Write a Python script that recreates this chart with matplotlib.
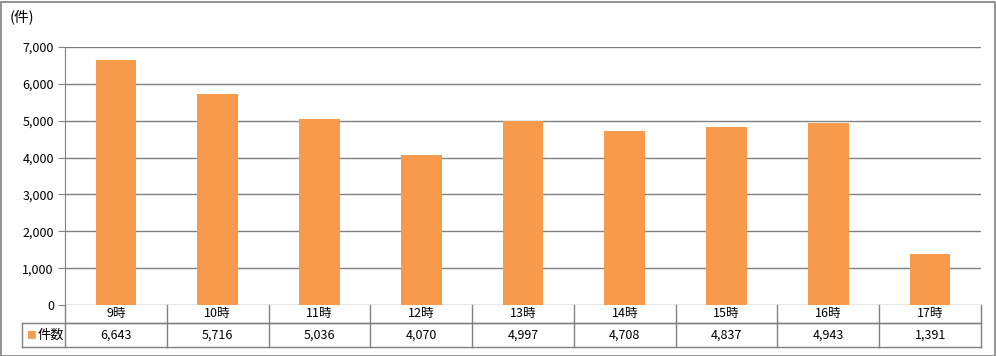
import matplotlib.pyplot as plt
from matplotlib.patches import Rectangle

plt.rcParams['font.family'] = ['Noto Sans CJK JP', 'DejaVu Sans']

hours = ["9時", "10時", "11時", "12時", "13時", "14時", "15時", "16時", "17時"]
counts = [6643, 5716, 5036, 4070, 4997, 4708, 4837, 4943, 1391]
series_name = "件数"

W, H = 996, 356
fig = plt.figure(figsize=(W / 100, H / 100), dpi=100)
fig.patches.append(Rectangle((0.5 / W, 0.5 / H), 1 - 2 / W, 1 - 2 / H, transform=fig.transFigure,
                             fill=False, edgecolor="#808080", linewidth=1.2))

# plot area in pixels
left, right, top, bottom = 65, 981, 47, 305
ax = fig.add_axes([left / W, 1 - bottom / H, (right - left) / W, (bottom - top) / H])

bar_color = "#F79A4C"
x = list(range(len(hours)))
ax.bar(x, counts, width=0.4, color=bar_color, zorder=3)

ax.set_xlim(-0.5, len(hours) - 0.5)
ax.set_ylim(0, 7000)
ax.set_yticks(range(0, 7001, 1000))
ax.set_yticklabels([f"{v:,}" for v in range(0, 7001, 1000)], fontsize=9)
ax.yaxis.grid(True, color="#808080", linewidth=1)
ax.set_axisbelow(True)
ax.tick_params(axis="y", length=5, color="#808080", pad=3)
ax.set_xticks([])
for s in ["top", "right", "bottom"]:
    ax.spines[s].set_visible(False)
ax.spines["left"].set_color("#808080")

# data table below the axes
ph = bottom - top
trans = ax.get_xaxis_transform()
r1 = -18 / ph
r2 = -42 / ph
x_leg = -0.5 - (left - 22) / ((right - left) / len(hours))
lc = "#808080"
kw = dict(transform=trans, color=lc, linewidth=1, clip_on=False)
ax.plot([-0.5, len(hours) - 0.5], [r1, r1], **kw)
ax.plot([x_leg, len(hours) - 0.5], [r1, r1], **kw)
ax.plot([x_leg, len(hours) - 0.5], [r2, r2], **kw)
ax.plot([x_leg, x_leg], [r1, r2], **kw)
for i in range(len(hours) + 1):
    ax.plot([i - 0.5, i - 0.5], [0, r2], **kw)

for i, (h, c) in enumerate(zip(hours, counts)):
    ax.text(i, r1 / 2, h, transform=trans, ha="center", va="center", fontsize=9)
    ax.text(i, (r1 + r2) / 2, f"{c:,}", transform=trans, ha="center", va="center", fontsize=9)

ax.text(x_leg + 0.09, (r1 + r2) / 2, "■", transform=trans, ha="center", va="center",
        fontsize=7, color=bar_color)
ax.text(x_leg + 0.15, (r1 + r2) / 2, series_name, transform=trans, ha="left", va="center", fontsize=9.5)

fig.text(10 / W, 1 - 17 / H, "(件)", ha="left", va="center", fontsize=10.5)

fig.savefig("out.png", dpi=100)
